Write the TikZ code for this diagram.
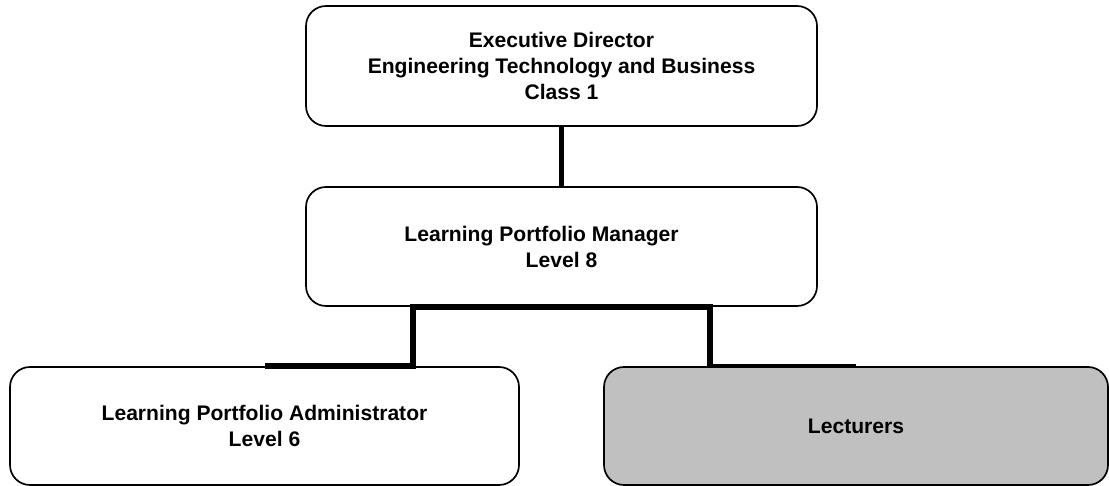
\documentclass[tikz,border=0pt]{standalone}
\usepackage{fontspec}
\setmainfont{Liberation Sans}
\usetikzlibrary{positioning,calc}
\definecolor{boxgray}{RGB}{192,192,192}
\tikzset{
 post/.style={draw, rounded corners=5mm, line width=1.2pt, align=center,
  font=\bfseries\fontsize{15}{18.5}\selectfont},
 link/.style={line width=3.8pt},
}

\begin{document}
\begin{tikzpicture}[semithick]
\useasboundingbox (0,0) rectangle (27.725,12.15);
\node[post, minimum width=12.775cm, minimum height=3cm] (ed) at (14.0375, 10.5) {Executive Director\\ Engineering Technology and Business\\ Class 1};
\node[post, minimum width=12.775cm, minimum height=2.975cm] (lpm) at (14.0375, 5.9875) {Learning Portfolio Manager\hspace*{1cm}\\ Level 8};
\node[post, minimum width=12.725cm, minimum height=2.95cm] (lpa) at (6.6125, 1.5) {Learning Portfolio Administrator\\ Level 6};
\node[post, fill=boxgray, minimum width=12.6cm, minimum height=2.95cm] (lec) at (21.4, 1.5) {Lecturers};
% links
\coordinate (jl) at ($(lpm.south)+(-3.71,0)$);
\coordinate (jr) at ($(lpm.south)+(3.71,0)$);
\draw[link] (ed.south) -- (lpm.north);
\draw[link] (lpa.north) -| (jl) -- (jr) -- (jr |- lec.north);
\draw[link, line width=2.4pt] (jr |- lec.north) -- (lec.north);
\end{tikzpicture}
\end{document}
